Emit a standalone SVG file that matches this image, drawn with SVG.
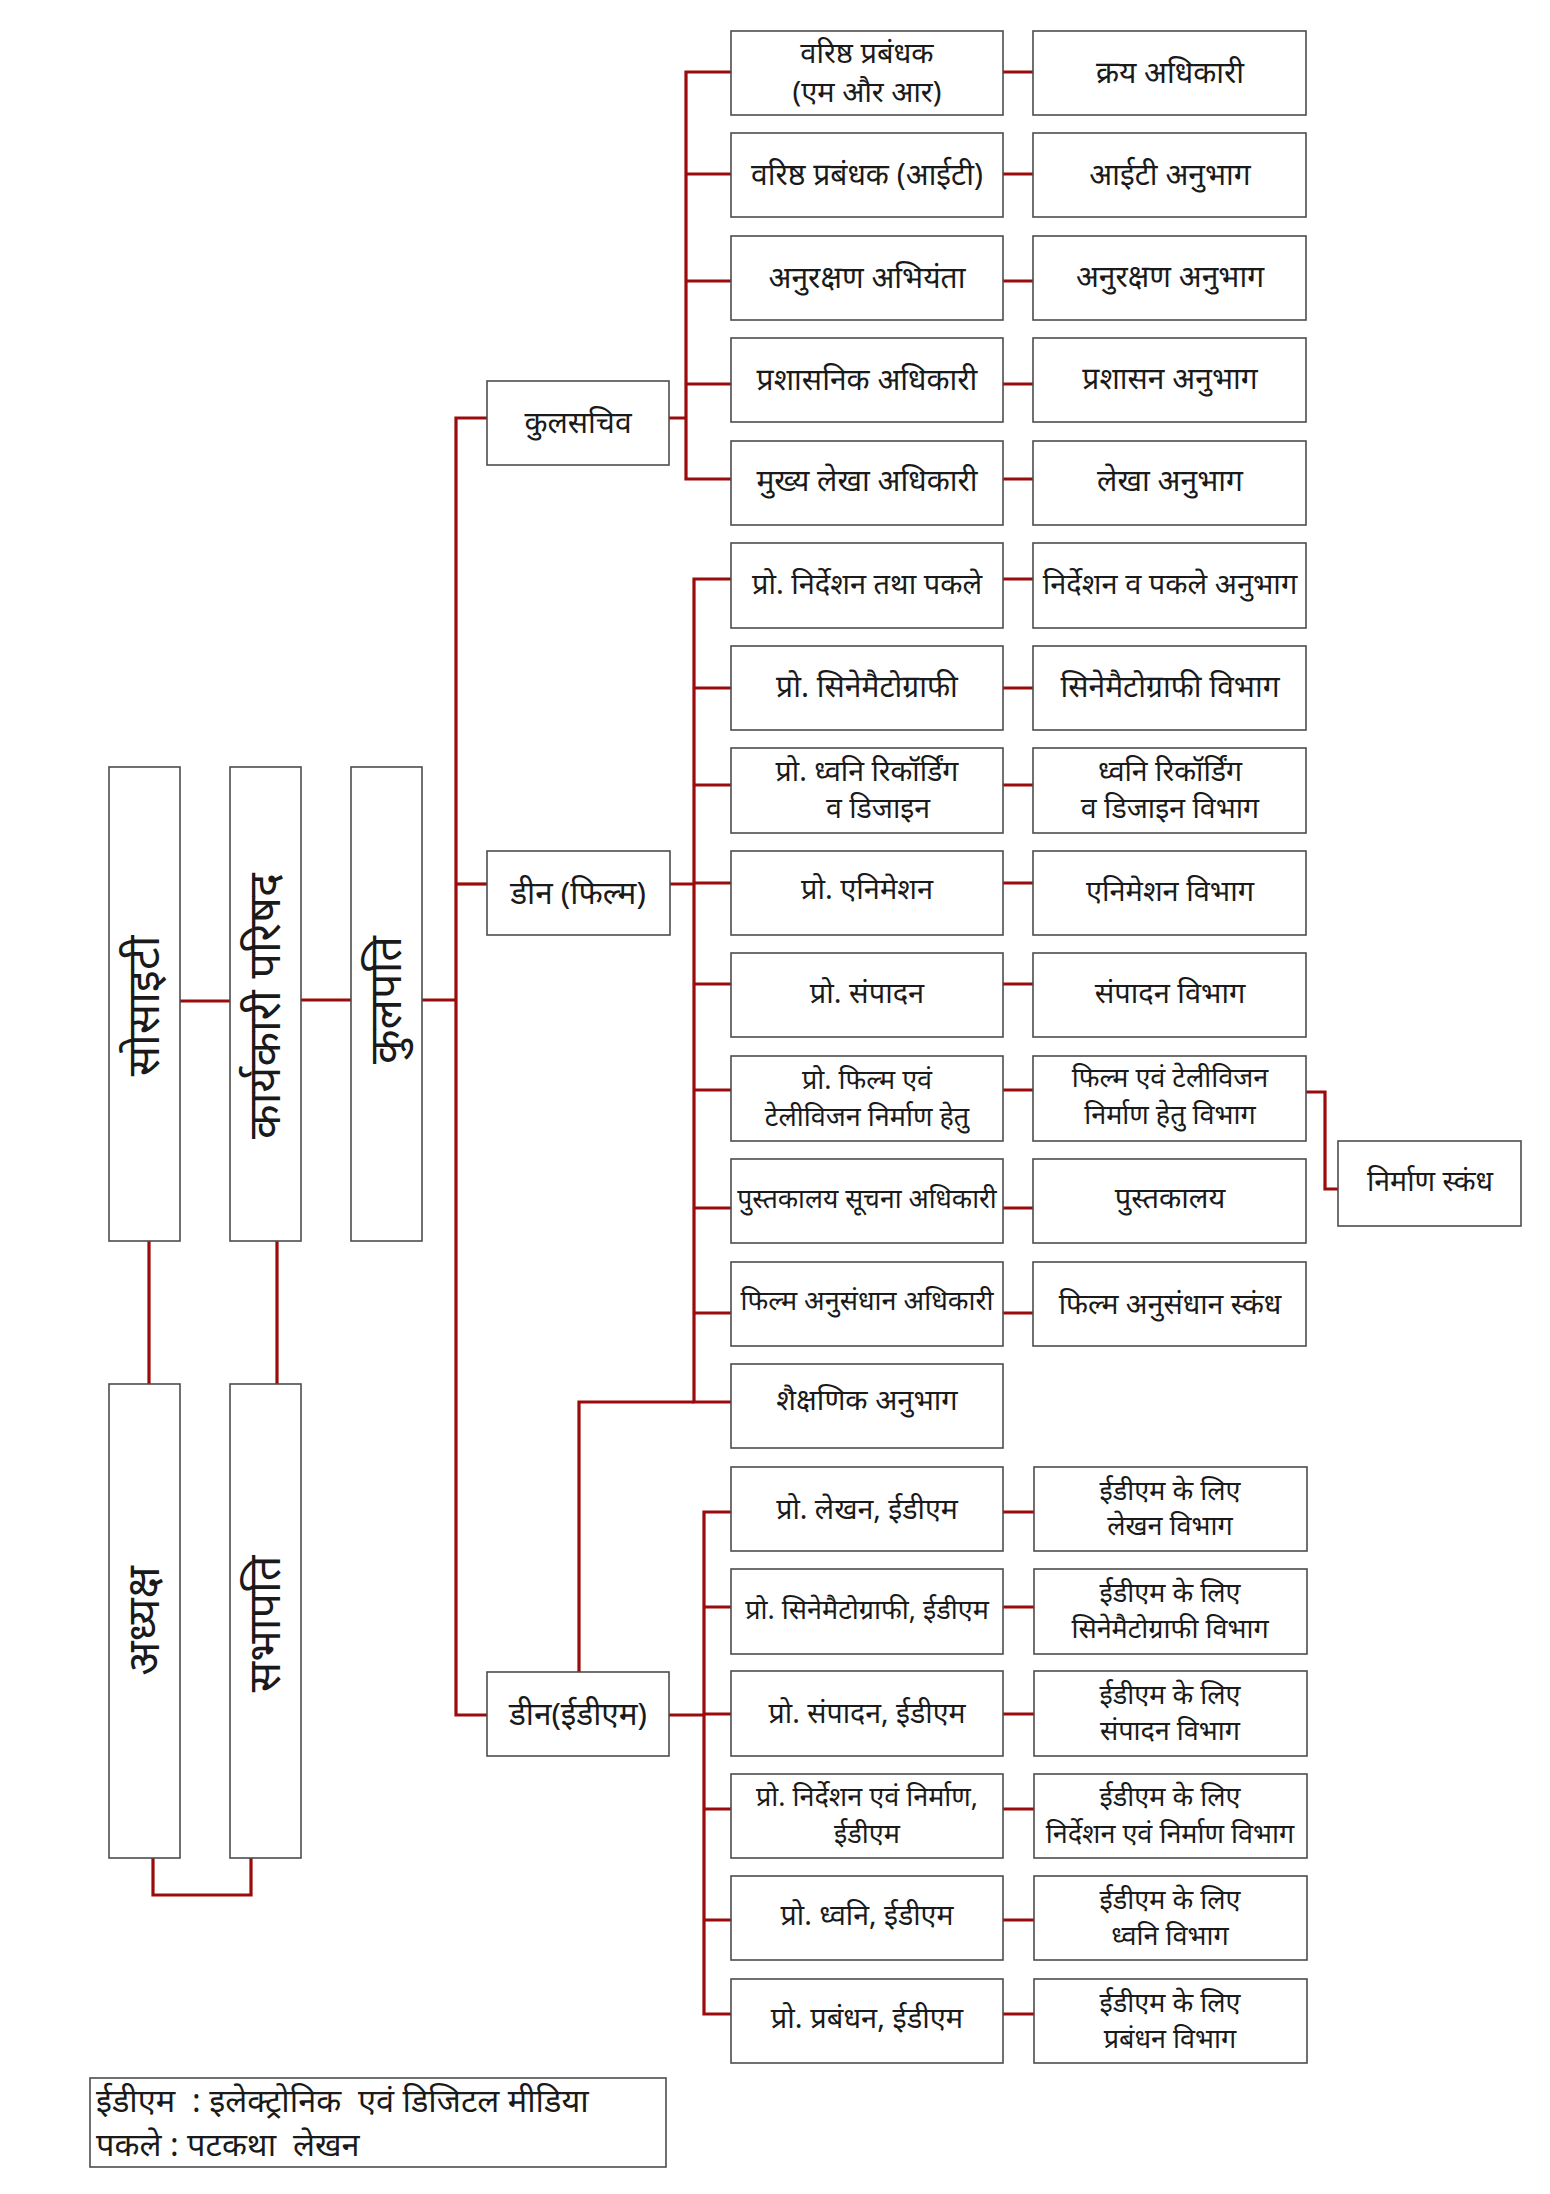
<svg xmlns="http://www.w3.org/2000/svg" width="1550" height="2194" viewBox="0 0 1550 2194">
<style>
.b{fill:#fff;stroke:#4d4d4d;stroke-width:1.6}
text{font-family:'Noto Sans','Noto Sans Devanagari','Lohit Devanagari',sans-serif;fill:#1a1a1a}
.t{font-size:29px;text-anchor:middle}
.k{font-size:30px}
.s{font-size:27px}
.m{font-size:28.5px}
.d{font-size:31.5px}
.v{font-size:45px;text-anchor:middle}
.l{font-size:32.5px;white-space:pre}
.c{fill:none;stroke:#9b0b0b;stroke-width:3.2;stroke-linejoin:miter}
</style>
<rect width="1550" height="2194" fill="#fff"/>
<g id="connectors">
<path class="c" d="M180 1001H230M301 1000H351M422 1000H456"/>
<path class="c" d="M149 1241V1384M277 1241V1384M153 1857V1895H251V1857"/>
<path class="c" d="M487 418H456V1715H487"/>
<path class="c" d="M456 884H487"/>
<path class="c" d="M669 418H686M731 72H686V479H731M686 174H731M686 281H731M686 384H731"/>
<path class="c" d="M1003 72H1033M1003 174H1033M1003 281H1033M1003 384H1033M1003 479H1033"/>
<path class="c" d="M670 884H694M731 579H694V1402H731M694 688H731M694 785H731M694 883H731M694 984H731M694 1090H731M694 1208H731M694 1313H731"/>
<path class="c" d="M1003 579H1033M1003 688H1033M1003 785H1033M1003 883H1033M1003 984H1033M1003 1090H1033M1003 1208H1033M1003 1313H1033"/>
<path class="c" d="M1306 1092H1325V1189H1338"/>
<path class="c" d="M694 1402H579V1672"/>
<path class="c" d="M669 1715H704M731 1512H704V2014H731M704 1607H731M704 1714H731M704 1809H731M704 1920H731"/>
<path class="c" d="M1003 1512H1034M1003 1607H1034M1003 1714H1034M1003 1809H1034M1003 1920H1034M1003 2014H1034"/>
</g>
<g id="society"><rect class="b" x="109" y="767" width="71" height="474"/><text class="v" transform="translate(144,1006) rotate(-90)" y="15">सोसाइटी</text></g>
<g id="council"><rect class="b" x="230" y="767" width="71" height="474"/><text class="v" transform="translate(265,1006) rotate(-90)" y="15">कार्यकारी परिषद</text></g>
<g id="kulpati"><rect class="b" x="351" y="767" width="71" height="474"/><text class="v" transform="translate(386,1000) rotate(-90)" y="15">कुलपति</text></g>
<g id="adhyaksh"><rect class="b" x="109" y="1384" width="71" height="474"/><text class="v" transform="translate(144,1621) rotate(-90)" y="15">अध्यक्ष</text></g>
<g id="sabhapati"><rect class="b" x="230" y="1384" width="71" height="474"/><text class="v" transform="translate(265,1624) rotate(-90)" y="15">सभापति</text></g>
<g id="kulsachiv"><rect class="b" x="487" y="381" width="182" height="84"/><text class="t k" x="578" y="433">कुलसचिव</text></g>
<g id="dean-film"><rect class="b" x="487" y="851" width="183" height="84"/><text class="t d" x="578" y="904">डीन (फिल्म)</text></g>
<g id="dean-edm"><rect class="b" x="487" y="1672" width="182" height="84"/><text class="t d" x="578" y="1725">डीन(ईडीएम)</text></g>

<g id="k1"><rect class="b" x="731" y="31" width="272" height="84"/><text class="t" x="867" y="63">वरिष्ठ प्रबंधक</text><text class="t" x="867" y="102">(एम और आर)</text></g>
<g id="k1b"><rect class="b" x="1033" y="31" width="273" height="84"/><text class="t k" x="1170" y="83">क्रय अधिकारी</text></g>
<g id="k2"><rect class="b" x="731" y="133" width="272" height="84"/><text class="t k" x="867" y="185">वरिष्ठ प्रबंधक (आईटी)</text></g>
<g id="k2b"><rect class="b" x="1033" y="133" width="273" height="84"/><text class="t k" x="1170" y="185">आईटी अनुभाग</text></g>
<g id="k3"><rect class="b" x="731" y="236" width="272" height="84"/><text class="t k" x="867" y="288">अनुरक्षण अभियंता</text></g>
<g id="k3b"><rect class="b" x="1033" y="236" width="273" height="84"/><text class="t k" x="1170" y="287">अनुरक्षण अनुभाग</text></g>
<g id="k4"><rect class="b" x="731" y="338" width="272" height="84"/><text class="t k" x="867" y="390">प्रशासनिक अधिकारी</text></g>
<g id="k4b"><rect class="b" x="1033" y="338" width="273" height="84"/><text class="t k" x="1170" y="389">प्रशासन अनुभाग</text></g>
<g id="k5"><rect class="b" x="731" y="441" width="272" height="84"/><text class="t k" x="867" y="491">मुख्य लेखा अधिकारी</text></g>
<g id="k5b"><rect class="b" x="1033" y="441" width="273" height="84"/><text class="t k" x="1170" y="491">लेखा अनुभाग</text></g>

<g id="f1"><rect class="b" x="731" y="543" width="272" height="85"/><text class="t" x="867" y="594">प्रो. निर्देशन तथा पकले</text></g>
<g id="f1b"><rect class="b" x="1033" y="543" width="273" height="85"/><text class="t" x="1170" y="594">निर्देशन व पकले अनुभाग</text></g>
<g id="f2"><rect class="b" x="731" y="646" width="272" height="84"/><text class="t k" x="867" y="697">प्रो. सिनेमैटोग्राफी</text></g>
<g id="f2b"><rect class="b" x="1033" y="646" width="273" height="84"/><text class="t k" x="1170" y="697">सिनेमैटोग्राफी विभाग</text></g>
<g id="f3"><rect class="b" x="731" y="748" width="272" height="85"/><text class="t m" x="867" y="781">प्रो. ध्वनि रिकॉर्डिंग</text><text class="t m" x="878" y="818">व डिजाइन</text></g>
<g id="f3b"><rect class="b" x="1033" y="748" width="273" height="85"/><text class="t m" x="1170" y="781">ध्वनि रिकॉर्डिंग</text><text class="t m" x="1170" y="818">व डिजाइन विभाग</text></g>
<g id="f4"><rect class="b" x="731" y="851" width="272" height="84"/><text class="t" x="867" y="899">प्रो. एनिमेशन</text></g>
<g id="f4b"><rect class="b" x="1033" y="851" width="273" height="84"/><text class="t" x="1170" y="901">एनिमेशन विभाग</text></g>
<g id="f5"><rect class="b" x="731" y="953" width="272" height="84"/><text class="t" x="867" y="1003">प्रो. संपादन</text></g>
<g id="f5b"><rect class="b" x="1033" y="953" width="273" height="84"/><text class="t" x="1170" y="1003">संपादन विभाग</text></g>
<g id="f6"><rect class="b" x="731" y="1056" width="272" height="85"/><text class="t s" x="867" y="1089">प्रो. फिल्म एवं</text><text class="t s" x="867" y="1126">टेलीविजन निर्माण हेतु</text></g>
<g id="f6b"><rect class="b" x="1033" y="1056" width="273" height="85"/><text class="t s" x="1170" y="1087">फिल्म एवं टेलीविजन</text><text class="t s" x="1170" y="1124">निर्माण हेतु विभाग</text></g>
<g id="f6c"><rect class="b" x="1338" y="1141" width="183" height="85"/><text class="t m" x="1430" y="1191">निर्माण स्कंध</text></g>
<g id="f7"><rect class="b" x="731" y="1159" width="272" height="84"/><text class="t" style="font-size:26.5px" x="867" y="1208">पुस्तकालय सूचना अधिकारी</text></g>
<g id="f7b"><rect class="b" x="1033" y="1159" width="273" height="84"/><text class="t" x="1170" y="1208">पुस्तकालय</text></g>
<g id="f8"><rect class="b" x="731" y="1262" width="272" height="84"/><text class="t s" x="867" y="1310">फिल्म अनुसंधान अधिकारी</text></g>
<g id="f8b"><rect class="b" x="1033" y="1262" width="273" height="84"/><text class="t m" x="1170" y="1314">फिल्म अनुसंधान स्कंध</text></g>
<g id="f9"><rect class="b" x="731" y="1364" width="272" height="84"/><text class="t" x="867" y="1410">शैक्षणिक अनुभाग</text></g>

<g id="e1"><rect class="b" x="731" y="1467" width="272" height="84"/><text class="t m" x="867" y="1519">प्रो. लेखन, ईडीएम</text></g>
<g id="e1b"><rect class="b" x="1034" y="1467" width="273" height="84"/><text class="t s" x="1170" y="1500">ईडीएम के लिए</text><text class="t s" x="1170" y="1535">लेखन विभाग</text></g>
<g id="e2"><rect class="b" x="731" y="1569" width="272" height="85"/><text class="t s" x="867" y="1619">प्रो. सिनेमैटोग्राफी, ईडीएम</text></g>
<g id="e2b"><rect class="b" x="1034" y="1569" width="273" height="85"/><text class="t s" x="1170" y="1602">ईडीएम के लिए</text><text class="t s" x="1170" y="1638">सिनेमैटोग्राफी विभाग</text></g>
<g id="e3"><rect class="b" x="731" y="1671" width="272" height="85"/><text class="t m" x="867" y="1723">प्रो. संपादन, ईडीएम</text></g>
<g id="e3b"><rect class="b" x="1034" y="1671" width="273" height="85"/><text class="t s" x="1170" y="1704">ईडीएम के लिए</text><text class="t s" x="1170" y="1740">संपादन विभाग</text></g>
<g id="e4"><rect class="b" x="731" y="1774" width="272" height="84"/><text class="t s" x="867" y="1806">प्रो. निर्देशन एवं निर्माण,</text><text class="t s" x="867" y="1843">ईडीएम</text></g>
<g id="e4b"><rect class="b" x="1034" y="1774" width="273" height="84"/><text class="t s" x="1170" y="1806">ईडीएम के लिए</text><text class="t s" x="1170" y="1843">निर्देशन एवं निर्माण विभाग</text></g>
<g id="e5"><rect class="b" x="731" y="1876" width="272" height="84"/><text class="t m" x="867" y="1925">प्रो. ध्वनि, ईडीएम</text></g>
<g id="e5b"><rect class="b" x="1034" y="1876" width="273" height="84"/><text class="t s" x="1170" y="1909">ईडीएम के लिए</text><text class="t s" x="1170" y="1945">ध्वनि विभाग</text></g>
<g id="e6"><rect class="b" x="731" y="1979" width="272" height="84"/><text class="t" x="867" y="2028">प्रो. प्रबंधन, ईडीएम</text></g>
<g id="e6b"><rect class="b" x="1034" y="1979" width="273" height="84"/><text class="t s" x="1170" y="2012">ईडीएम के लिए</text><text class="t s" x="1170" y="2048">प्रबंधन विभाग</text></g>

<g id="legend"><rect class="b" x="90" y="2078" width="576" height="89"/><text class="l" x="96" y="2112">ईडीएम  : इलेक्ट्रोनिक  एवं डिजिटल मीडिया</text><text class="l" x="96" y="2156">पकले : पटकथा  लेखन</text></g>
</svg>
